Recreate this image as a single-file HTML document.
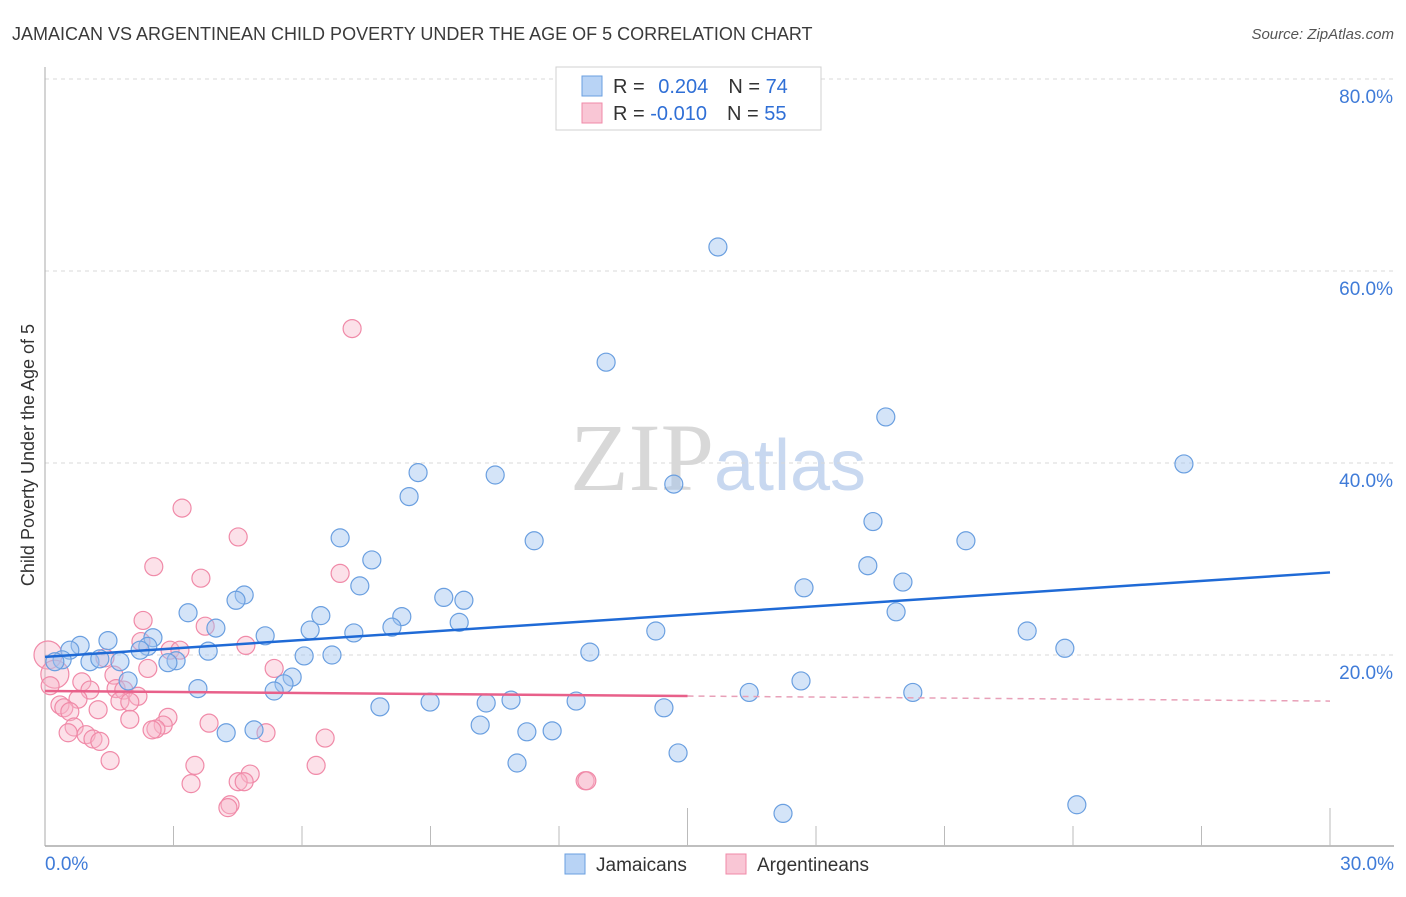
<!DOCTYPE html>
<html><head><meta charset="utf-8"><style>
body{margin:0;background:#fff;font-family:"Liberation Sans",sans-serif;}
svg text{font-family:"Liberation Sans",sans-serif;}
</style></head><body>
<svg id="chart" width="1406" height="892" xmlns="http://www.w3.org/2000/svg">
<text x="12" y="40" font-size="18" fill="#3a3a3a">JAMAICAN VS ARGENTINEAN CHILD POVERTY UNDER THE AGE OF 5 CORRELATION CHART</text>
<text x="1394" y="39" font-size="15" fill="#555" text-anchor="end" font-style="italic">Source: ZipAtlas.com</text>
<text x="718" y="490" font-size="96" text-anchor="middle"><tspan fill="#d8d8d8" font-family="Liberation Serif">ZIP</tspan><tspan fill="#c8d8f0" font-size="72">atlas</tspan></text>
<g id="grid"></g>
<g id="axes"></g>
<g id="pink"></g>
<g id="blue"></g>
<g id="trends"></g>
<text transform="translate(34,455) rotate(-90)" font-size="18" fill="#333" text-anchor="middle">Child Poverty Under the Age of 5</text>
<g>
<rect x="556" y="67" width="265" height="63" fill="#fff" stroke="#d0d0d0"/>
<rect x="582" y="76" width="20" height="20" fill="#b8d3f5" stroke="#6a9fe0"/>
<text x="613" y="93" font-size="20" fill="#333">R = <tspan fill="#2f6fd6" dx="8">0.204</tspan><tspan dx="20" fill="#333">N = </tspan><tspan fill="#2f6fd6">74</tspan></text>
<rect x="582" y="103" width="20" height="20" fill="#f9c6d5" stroke="#f08aa8"/>
<text x="613" y="120" font-size="20" fill="#333">R = <tspan fill="#2f6fd6">-0.010</tspan><tspan dx="20" fill="#333">N = </tspan><tspan fill="#2f6fd6">55</tspan></text>
</g>
<g>
<rect x="565" y="854" width="20" height="20" fill="#b8d3f5" stroke="#6a9fe0"/>
<text x="596" y="871" font-size="19" fill="#333">Jamaicans</text>
<rect x="726" y="854" width="20" height="20" fill="#f9c6d5" stroke="#f08aa8"/>
<text x="757" y="871" font-size="19" fill="#333">Argentineans</text>
</g>
</svg>
<script>
const yTicks=[20,40,60,80];
const yTickLabels=["20.0%","40.0%","60.0%","80.0%"];
const xTickLabels=["0.0%","30.0%"];
const blueX=[15.71,13.10,19.63,26.59,8.71,10.51,14.68,8.50,19.33,6.89,11.42,21.50,7.63,19.21,20.03,7.35,17.72,4.65,4.46,9.31,9.78,19.87,3.34,6.44,8.33,9.67,3.99,8.10,6.19,14.26,22.93,7.21,5.14,2.52,1.47,0.82,2.40,0.58,2.22,3.81,23.81,12.72,6.05,6.70,0.40,3.06,2.87,1.05,1.28,1.75,0.23,5.77,1.94,17.65,5.58,3.57,5.35,16.44,20.26,12.40,10.88,8.99,10.30,7.82,14.45,10.16,4.23,4.88,11.25,11.84,14.78,11.02,24.09,17.23];
const blueY=[62.5,50.5,44.8,39.9,39.0,38.75,37.8,36.5,33.9,32.2,31.9,31.9,29.9,29.3,27.6,27.2,27.0,26.25,25.7,26.0,25.7,24.5,24.4,24.1,24.0,23.4,22.8,22.9,22.6,22.5,22.5,22.3,22.0,21.8,21.5,21.0,20.9,20.5,20.5,20.4,20.7,20.3,19.9,20.0,19.5,19.4,19.2,19.3,19.6,19.3,19.3,17.7,17.3,17.3,17.0,16.5,16.25,16.1,16.1,15.2,15.3,15.1,15.0,14.6,14.5,12.7,11.9,12.2,12.0,12.1,9.8,8.75,4.4,3.5];
const pinkX=[7.17,3.20,4.51,2.54,3.64,6.89,2.29,3.74,2.24,4.69,2.92,3.15,0.07,1.40,2.40,5.35,0.23,1.61,0.86,0.12,1.05,1.66,1.84,2.17,0.77,1.75,1.98,0.35,0.44,1.24,0.58,2.87,1.98,3.83,0.68,2.76,2.59,5.16,0.54,0.96,2.50,6.54,1.12,1.28,6.33,1.52,3.50,4.79,4.51,4.65,3.41,12.61,12.65,4.32,4.27];
const pinkY=[54.0,35.3,32.3,29.2,28.0,28.5,23.6,23.0,21.4,21.0,20.5,20.5,20.0,19.7,18.6,18.6,18.0,17.9,17.2,16.8,16.35,16.5,16.35,15.7,15.4,15.2,15.1,14.8,14.5,14.3,14.1,13.5,13.3,12.9,12.5,12.7,12.3,11.9,11.9,11.7,12.2,11.35,11.25,11.0,8.5,9.0,8.5,7.6,6.8,6.8,6.6,6.9,6.9,4.4,4.1];
const blueTrend=[19.8,28.6];
const pinkTrend=[16.25,15.2];
const X0=45,X1=1330,Y0=847,PX=192/20;
const sx=v=>X0+(v/30)*(X1-X0);
const sy=v=>Y0-v*PX;
const NS="http://www.w3.org/2000/svg";
function mk(tag,attrs,parent){const e=document.createElementNS(NS,tag);for(const k in attrs)e.setAttribute(k,attrs[k]);parent.appendChild(e);return e;}
const grid=document.getElementById('grid'),axes=document.getElementById('axes');
yTicks.forEach((t,i)=>{
 const l=mk('line',{x1:45,x2:1394,y1:sy(t),y2:sy(t),stroke:'#d8d8d8','stroke-dasharray':'4,4'},grid);
 
 
 const tx=mk('text',{x:1393,y:sy(t)+24,'font-size':19,fill:'#3f7bd8','text-anchor':'end'},grid);
 tx.textContent=yTickLabels[i];
 
 
});
const yl=mk('line',{x1:45,x2:45,y1:67,y2:846,stroke:'#aaa'},axes);


const xl=mk('line',{x1:45,x2:1394,y1:846,y2:846,stroke:'#aaa','stroke-width':1.5},axes);


for(let i=1;i<=10;i++){
 const x=sx(i*3);const top=(i==5||i==10)?808:826;
 const t=mk('line',{x1:x,x2:x,y1:top,y2:846,stroke:'#bbb'},axes);
 
 
}
[[0,'start',45],[30,'end',1394]].forEach((d,i)=>{
 const t=mk('text',{x:d[2],y:870,'font-size':19,fill:'#3f7bd8','text-anchor':d[1]},axes);
 t.textContent=xTickLabels[i];
 
 
});
const pg=document.getElementById('pink');
pinkX.forEach((v,i)=>{
 const c=mk('circle',{cx:sx(v),cy:sy(pinkY[i]),r:(i==12||i==16)?14:9,fill:'rgba(248,180,200,0.4)',stroke:'#f08aa8','stroke-width':1.2},pg);
 
 
});
const bg=document.getElementById('blue');
blueX.forEach((v,i)=>{
 const c=mk('circle',{cx:sx(v),cy:sy(blueY[i]),r:9,fill:'rgba(160,196,240,0.45)',stroke:'#6a9fe0','stroke-width':1.2},bg);
 
 
});
const tg=document.getElementById('trends');
const bt=mk('line',{x1:sx(0),y1:sy(blueTrend[0]),x2:sx(30),y2:sy(blueTrend[1]),stroke:'#1f6ad6','stroke-width':2.5},tg);


const pm=pinkTrend[0]+(pinkTrend[1]-pinkTrend[0])*0.5;
const pt=mk('line',{x1:sx(0),y1:sy(pinkTrend[0]),x2:sx(15),y2:sy(pm),stroke:'#e8608a','stroke-width':2.5},tg);


const pd=mk('line',{x1:sx(15),y1:sy(pm),x2:sx(30),y2:sy(pinkTrend[1]),stroke:'#e8a0b8','stroke-width':1.5,'stroke-dasharray':'6,5'},tg);


</script>
</body></html>
